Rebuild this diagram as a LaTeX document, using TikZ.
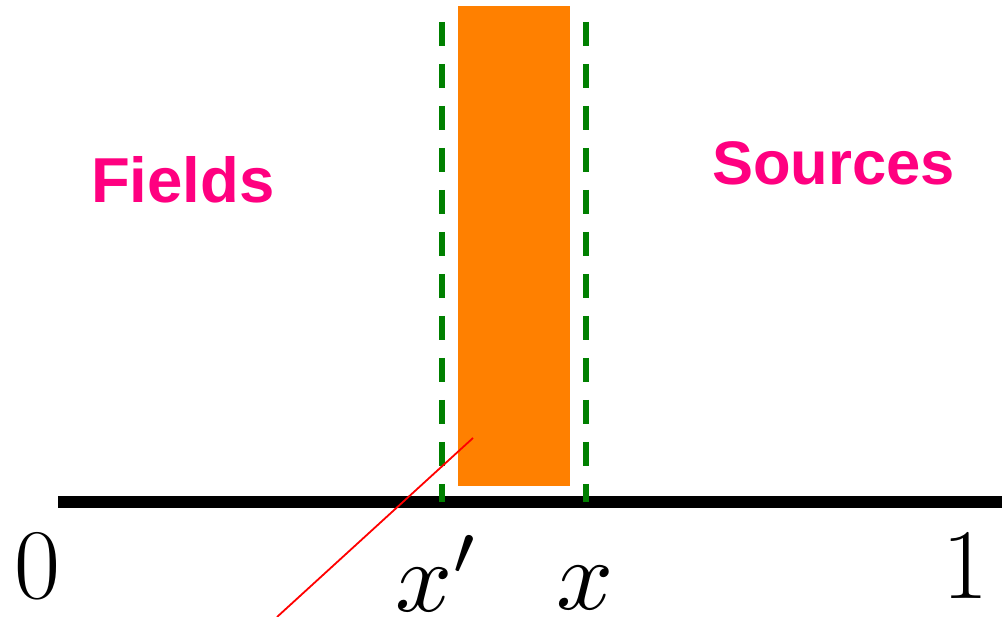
\documentclass[tikz,border=0pt]{standalone}
\usepackage{fontspec}
\newfontfamily\labelfont{Liberation Sans}
\definecolor{pinkish}{HTML}{FF0080}
\definecolor{darkgreen}{HTML}{008000}
\definecolor{orangefill}{HTML}{FF8000}
\begin{document}
\begin{tikzpicture}[x=1pt,y=-1pt,
  axis/.style={line width=12pt,black},
  guide/.style={line width=6pt,darkgreen,dash pattern=on 24pt off 18pt},
  regionlabel/.style={text=pinkish,inner sep=0pt,anchor=base west},
  ticklabel/.style={font=\fontsize{100}{100}\selectfont,inner sep=0pt,anchor=base},
  mathlabel/.style={font=\fontsize{10}{12}\selectfont,inner sep=0pt,anchor=base west,scale=10,transform shape}]
\useasboundingbox (0,0) rectangle (1002,617);
% axis
\coordinate (axL) at (58,502);
\coordinate (axR) at (1002,502);
\draw[axis] (axL) -- (axR);
% orange slab
\node[fill=orangefill,inner sep=0pt,minimum width=112pt,minimum height=480pt,anchor=north west] (slab) at (458,6) {};
% green dashed guides
\coordinate (gLt) at (442,22);
\coordinate (gLb) at (442,502);
\coordinate (gRt) at (586,22);
\coordinate (gRb) at (586,502);
\draw[guide] (gLt) -- (gLb);
\draw[guide] (gRt) -- (gRb);
% red line
\coordinate (rA) at (473,438);
\coordinate (rB) at (277,617);
\draw[red,line width=1.8pt] (rA) -- (rB);
% labels
\node[regionlabel,font=\labelfont\bfseries\fontsize{63.5}{64}\selectfont] (fields) at (91,203) {Fields};
\node[regionlabel,font=\labelfont\bfseries\fontsize{61.5}{62}\selectfont] (sources) at (712,185) {Sources};
\node[ticklabel] (zero) at (37.5,598) {0};
\node[ticklabel] (one) at (965,598) {1};
\node[mathlabel] (xp) at (393,611) {$x'$};
\node[mathlabel] (xx) at (554,609) {$x$};
\end{tikzpicture}
\end{document}
